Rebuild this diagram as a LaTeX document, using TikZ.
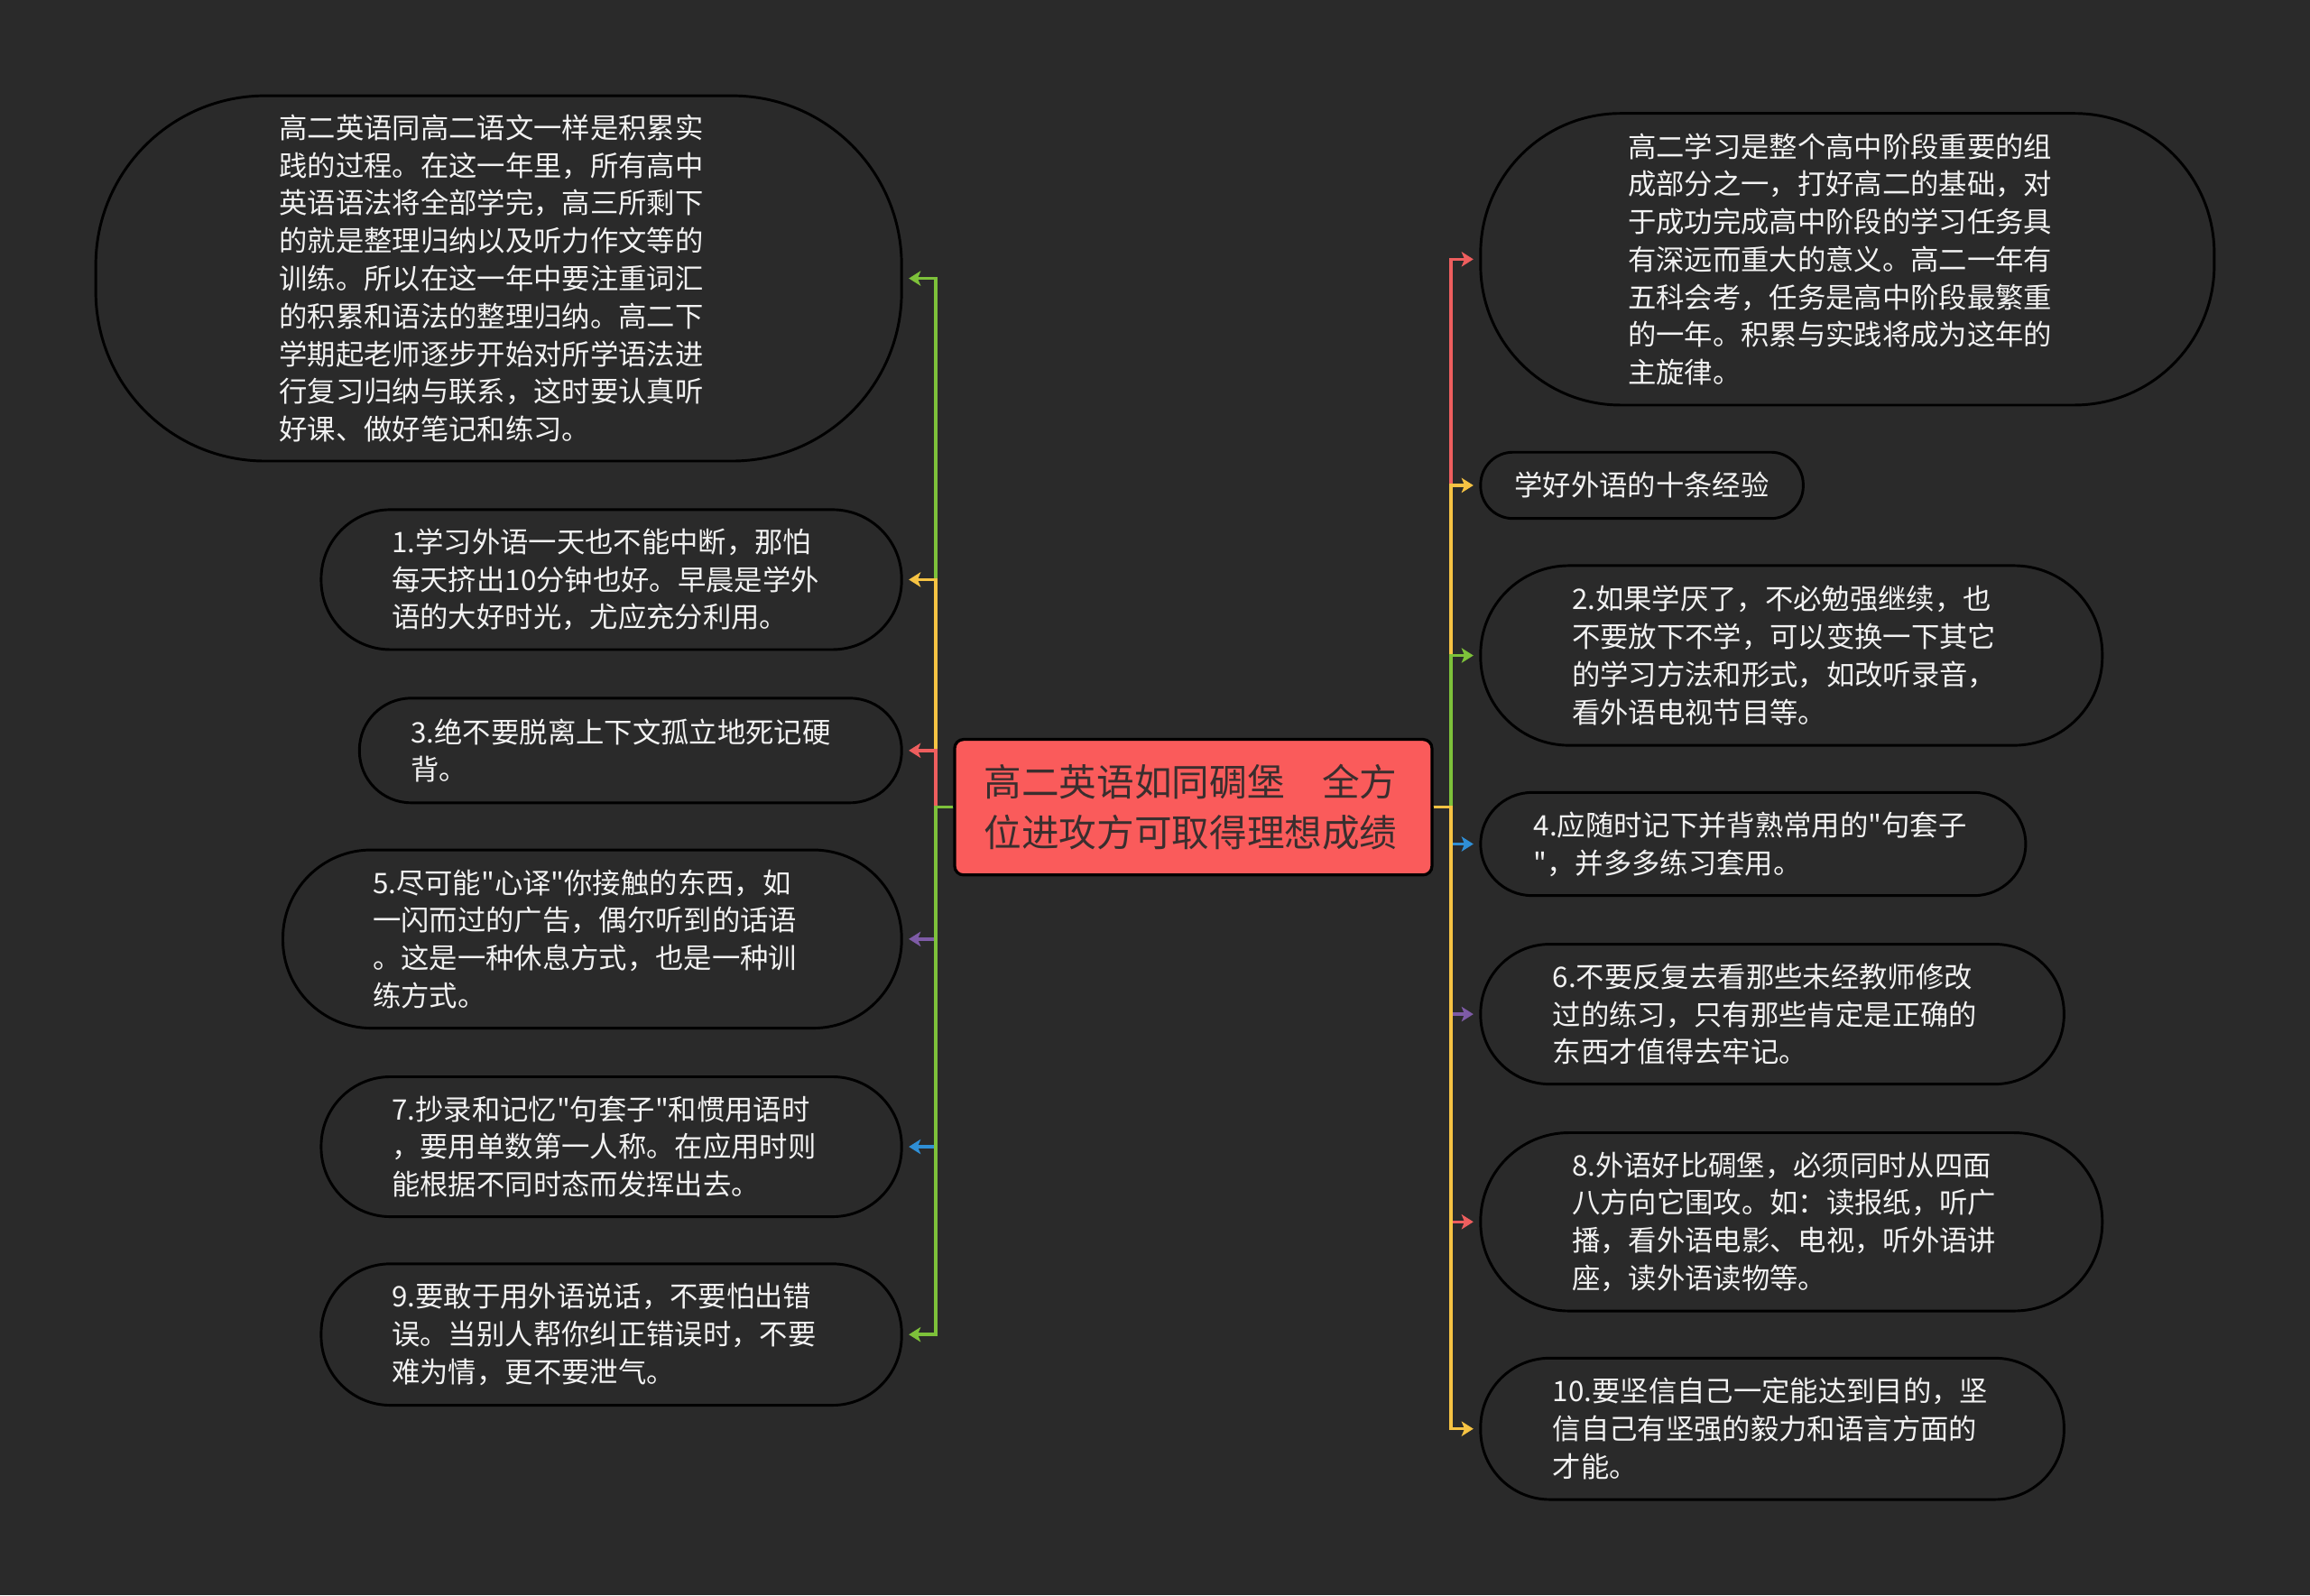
\documentclass[tikz,border=0pt]{standalone}
\usepackage{fontspec}
\setmainfont{Noto Sans CJK SC}[Ligatures=TeXOff]
\usetikzlibrary{arrows.meta}
\definecolor{bg}{HTML}{2A2A2A}
\definecolor{txt}{HTML}{F2F2F2}
\definecolor{ctrfill}{HTML}{FA5B5B}
\definecolor{ctrtxt}{HTML}{3A2E2E}
\definecolor{cgreen}{HTML}{7DC13A}
\definecolor{cyellow}{HTML}{F6C343}
\definecolor{cred}{HTML}{EE5E5E}
\definecolor{cpurple}{HTML}{7E5BA6}
\definecolor{cblue}{HTML}{2F8FD6}
\begin{document}
\begin{tikzpicture}[x=1pt,y=-1pt,
  bubble/.style={draw=black, line width=1.8pt, fill=bg, text=txt,
    font=\fontsize{19.2}{25.6}\selectfont, inner sep=0pt, text width=298pt, align=left},
  headbox/.style={draw=black, line width=1.8pt, fill=bg, text=txt,
    font=\fontsize{19.2}{25.6}\selectfont, inner sep=0pt},
  ctrbox/.style={draw=black, line width=2pt, fill=ctrfill, text=ctrtxt,
    font=\fontsize{25.5}{34}\selectfont, inner sep=0pt, text width=284pt, align=left,
    rounded corners=6pt, minimum width=324pt, minimum height=92pt},
  conn/.style={line width=2.2pt, -{Stealth[length=8pt,width=10pt,inset=2pt]}, shorten >=4pt}
]
\fill[bg] (0,0) rectangle (1568,1083);

% center
\node[ctrbox] (c) at (810,548) {高二英语如同碉堡　全方\\位进攻方可取得理想成绩};
\coordinate (LT) at (635,548);
\coordinate (RT) at (985,548);

% left nodes
\node[bubble, minimum width=547pt, minimum height=248pt, rounded corners=115pt] (tl) at (338.5,189) {高二英语同高二语文一样是积累实\\践的过程。在这一年里，所有高中\\英语语法将全部学完，高三所剩下\\的就是整理归纳以及听力作文等的\\训练。所以在这一年中要注重词汇\\的积累和语法的整理归纳。高二下\\学期起老师逐步开始对所学语法进\\行复习归纳与联系，这时要认真听\\好课、做好笔记和练习。};
\node[bubble, minimum width=394pt, minimum height=95pt, rounded corners=47pt] (n1) at (415,393.5) {1.学习外语一天也不能中断，那怕\\每天挤出10分钟也好。早晨是学外\\语的大好时光，尤应充分利用。};
\node[bubble, minimum width=368pt, minimum height=71pt, rounded corners=35pt] (n3) at (428,509.5) {3.绝不要脱离上下文孤立地死记硬\\背。};
\node[bubble, minimum width=420pt, minimum height=121pt, rounded corners=60pt] (n5) at (402,637.5) {5.尽可能"心译"你接触的东西，如\\一闪而过的广告，偶尔听到的话语\\。这是一种休息方式，也是一种训\\练方式。};
\node[bubble, minimum width=394pt, minimum height=95pt, rounded corners=47pt] (n7) at (415,778.5) {7.抄录和记忆"句套子"和惯用语时\\，要用单数第一人称。在应用时则\\能根据不同时态而发挥出去。};
\node[bubble, minimum width=394pt, minimum height=96pt, rounded corners=47pt] (n9) at (415,906) {9.要敢于用外语说话，不要怕出错\\误。当别人帮你纠正错误时，不要\\难为情，更不要泄气。};

% right nodes
\node[bubble, minimum width=498pt, minimum height=198pt, rounded corners=95pt] (tr) at (1254,176) {高二学习是整个高中阶段重要的组\\成部分之一，打好高二的基础，对\\于成功完成高中阶段的学习任务具\\有深远而重大的意义。高二一年有\\五科会考，任务是高中阶段最繁重\\的一年。积累与实践将成为这年的\\主旋律。};
\node[headbox, minimum width=219pt, minimum height=45pt, rounded corners=22pt] (hd) at (1114.5,329.5) {学好外语的十条经验};
\node[bubble, minimum width=422pt, minimum height=122pt, rounded corners=60pt] (n2) at (1216,445) {2.如果学厌了，不必勉强继续，也\\不要放下不学，可以变换一下其它\\的学习方法和形式，如改听录音，\\看外语电视节目等。};
\node[bubble, minimum width=370pt, minimum height=70pt, rounded corners=35pt] (n4) at (1190,573) {4.应随时记下并背熟常用的"句套子\\"，并多多练习套用。};
\node[bubble, minimum width=396pt, minimum height=95pt, rounded corners=47pt] (n6) at (1203,688.5) {6.不要反复去看那些未经教师修改\\过的练习，只有那些肯定是正确的\\东西才值得去牢记。};
\node[bubble, minimum width=422pt, minimum height=121pt, rounded corners=60pt] (n8) at (1216,829.5) {8.外语好比碉堡，必须同时从四面\\八方向它围攻。如：读报纸，听广\\播，看外语电影、电视，听外语讲\\座，读外语读物等。};
\node[bubble, minimum width=396pt, minimum height=96pt, rounded corners=47pt] (n10) at (1203,970) {10.要坚信自己一定能达到目的，坚\\信自己有坚强的毅力和语言方面的\\才能。};

% connectors left
\draw[conn, cgreen]  (c.west) -- (LT) |- (tl.east);
\draw[conn, cyellow] (c.west) -- (LT) |- (n1.east);
\draw[conn, cred]    (c.west) -- (LT) |- (n3.east);
\draw[conn, cpurple] (c.west) -- (LT) |- (n5.east);
\draw[conn, cblue]   (c.west) -- (LT) |- (n7.east);
\draw[conn, cgreen]  (c.west) -- (LT) |- (n9.east);
% connectors right
\draw[conn, cred]    (c.east) -- (RT) |- (tr.west);
\draw[conn, cyellow] (c.east) -- (RT) |- (hd.west);
\draw[conn, cgreen]  (c.east) -- (RT) |- (n2.west);
\draw[conn, cblue]   (c.east) -- (RT) |- (n4.west);
\draw[conn, cpurple] (c.east) -- (RT) |- (n6.west);
\draw[conn, cred]    (c.east) -- (RT) |- (n8.west);
\draw[conn, cyellow] (c.east) -- (RT) |- (n10.west);
\end{tikzpicture}
\end{document}
